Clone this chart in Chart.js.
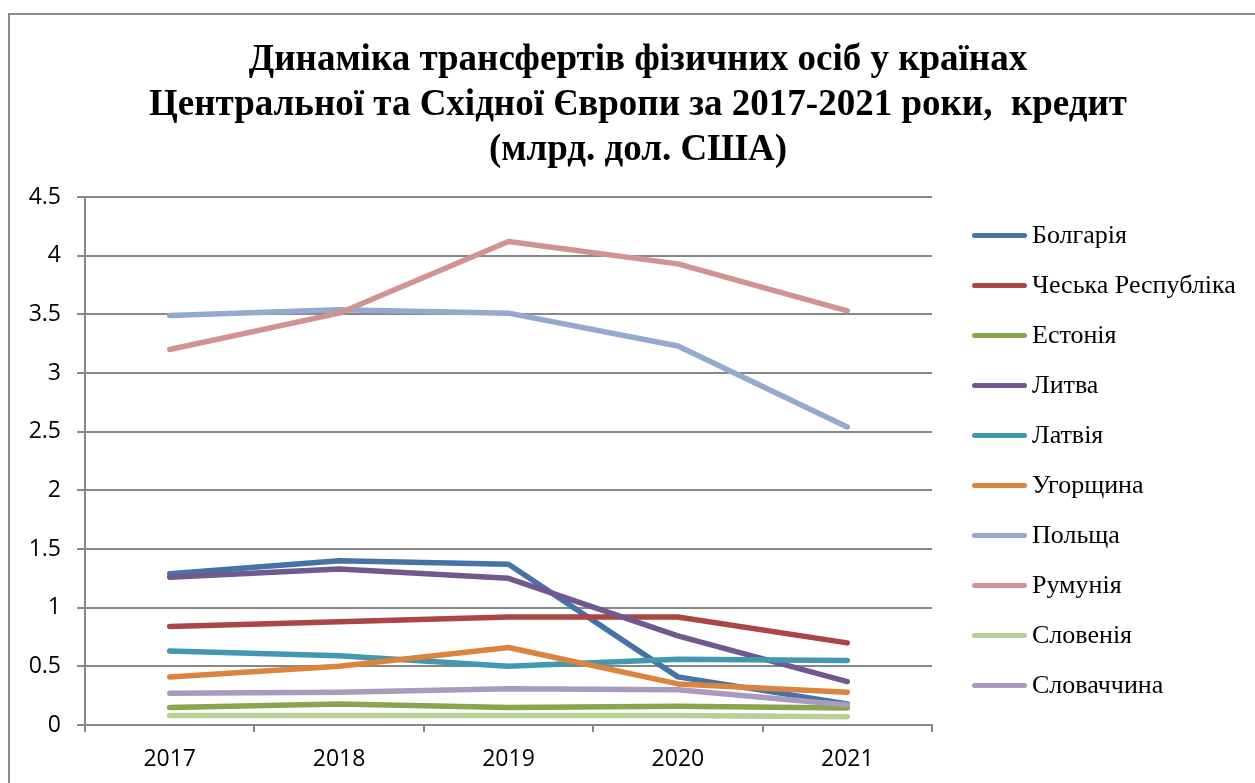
<!DOCTYPE html>
<html>
<head>
<meta charset="utf-8">
<script src="https://cdn.jsdelivr.net/npm/chart.js@4"></script>
<style>
  html, body { margin:0; padding:0; background:#fff; }
  body { width:1255px; height:783px; overflow:hidden; position:relative; }
  #frame { position:absolute; left:8px; top:13px; width:1400px; height:1000px; border:2px solid #8c8c8c; }
  #c { position:absolute; left:0; top:0; }
  #title { position:absolute; left:0; top:35px; width:1276px; text-align:center;
           font-family:"Liberation Serif","Times New Roman",serif; font-weight:bold; font-size:37px; line-height:45px; color:#000; }
  #legend { position:absolute; left:972px; top:0; font-family:"Liberation Serif","Times New Roman",serif; font-size:26px; color:#000; }
  .item { position:absolute; left:0; height:30px; white-space:nowrap; }
  .sw { position:absolute; left:0; top:13px; width:55px; height:5px; border-radius:3px; }
  .lbl { position:absolute; left:60px; top:0; line-height:30px; }
</style>
</head>
<body>
<div id="frame"></div>
<canvas id="c" width="1255" height="783"></canvas>
<div id="title">Динаміка трансфертів фізичних осіб у країнах<br>Центральної та Східної Європи за 2017-2021 роки,&nbsp; кредит<br>(млрд. дол. США)</div>
<div id="legend"></div>
<script>
const years = ["2017", "2018", "2019", "2020", "2021"];
const seriesNames = ["Болгарія", "Чеська Республіка", "Естонія", "Литва", "Латвія", "Угорщина", "Польща", "Румунія", "Словенія", "Словаччина"];
const bulgaria   = [1.29, 1.40, 1.37, 0.41, 0.18];
const czech      = [0.84, 0.88, 0.92, 0.92, 0.70];
const estonia    = [0.15, 0.18, 0.15, 0.16, 0.145];
const lithuania  = [1.26, 1.33, 1.25, 0.76, 0.37];
const latvia     = [0.63, 0.59, 0.50, 0.56, 0.55];
const hungary    = [0.41, 0.50, 0.66, 0.35, 0.28];
const poland     = [3.49, 3.54, 3.51, 3.23, 2.54];
const romania    = [3.20, 3.51, 4.12, 3.93, 3.53];
const slovenia   = [0.08, 0.08, 0.08, 0.08, 0.07];
const slovakia   = [0.27, 0.28, 0.31, 0.30, 0.17];
const seriesValues = [bulgaria, czech, estonia, lithuania, latvia, hungary, poland, romania, slovenia, slovakia];
const seriesColors = ["#4572A7", "#AA4643", "#89A54E", "#71588F", "#4198AF", "#DB843D", "#93A9CF", "#D19392", "#B9CD96", "#A99BBD"];
const yMin = 0, yMax = 4.5, yStep = 0.5;

const n = seriesNames.length;
const datasets = seriesNames.map((name, i) => ({
  label: name,
  data: seriesValues[i],
  borderColor: seriesColors[i],
  backgroundColor: seriesColors[i],
  borderWidth: 5.5,
  pointRadius: 0,
  tension: 0,
  borderCapStyle: 'round',
  borderJoinStyle: 'round',
  order: n - 1 - i
}));

const gridColor = "#878787";
const tickFont = { family: "'Open Sans', sans-serif", size: 23 };
const chart = new Chart(document.getElementById('c'), {
  type: 'line',
  data: { labels: years, datasets },
  options: {
    responsive: false,
    devicePixelRatio: 1,
    animation: false,
    layout: { padding: { top: 197, left: 0, right: 323, bottom: 0 } },
    plugins: { legend: { display: false }, title: { display: false }, tooltip: { enabled: false } },
    scales: {
      x: {
        offset: true,
        afterFit: s => { s.height = 58; },
        grid: { display: true, offset: true, drawOnChartArea: false, drawTicks: true, tickLength: 7, color: gridColor, lineWidth: 2 },
        border: { display: true, color: gridColor, width: 2 },
        ticks: { color: "#000", font: tickFont, padding: 14 }
      },
      y: {
        min: yMin, max: yMax,
        afterFit: s => { s.width = 85; },
        grid: { color: gridColor, lineWidth: 2, tickLength: 8, drawTicks: true },
        border: { display: true, color: gridColor, width: 2 },
        ticks: { stepSize: yStep, color: "#000", font: tickFont, padding: 16, callback: v => String(v) }
      }
    }
  }
});

const legend = document.getElementById('legend');
chart.data.datasets.forEach((ds, i) => {
  const it = document.createElement('div');
  it.className = 'item';
  it.style.top = (220 + 50 * i) + 'px';
  const sw = document.createElement('div');
  sw.className = 'sw';
  sw.style.background = ds.borderColor;
  const lb = document.createElement('div');
  lb.className = 'lbl';
  lb.textContent = ds.label;
  it.appendChild(sw); it.appendChild(lb);
  legend.appendChild(it);
});
</script>
</body>
</html>
